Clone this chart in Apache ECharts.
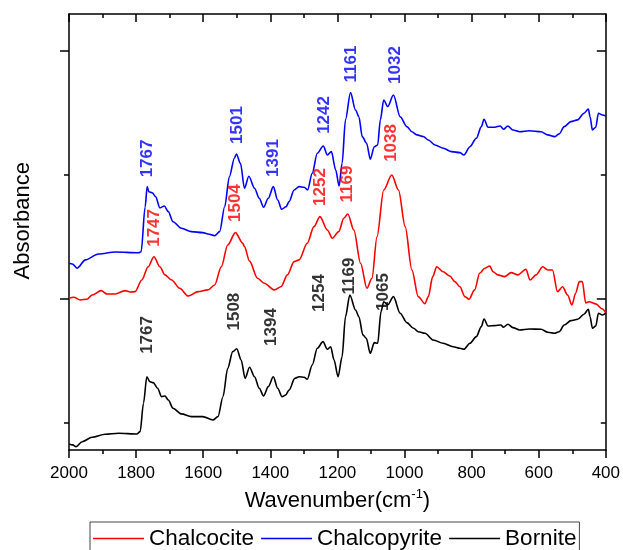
<!DOCTYPE html>
<html>
<head>
<meta charset="utf-8">
<script src="https://cdn.jsdelivr.net/npm/echarts@6/dist/echarts.min.js"></script>
<style>
html,body{margin:0;padding:0;background:#fff;}
#chart{width:623px;height:550px;}
</style>
</head>
<body>
<div id="chart"></div>
<script>
// ---------- data (wavenumber in cm-1, absorbance in arbitrary offset units) ----------
var chalcociteWn = [2000,1986,1966,1946,1931,1904,1887,1862,1833,1818,1803,1783,1764,1747,1729,1714,1694,1670,1645,1615,1586,1566,1546,1527,1504,1482,1477,1462,1438,1418,1388,1368,1349,1329,1314,1290,1270,1252,1230,1215,1196,1181,1169,1151,1131,1112,1097,1082,1062,1038,1018,998,978,959,939,929,916,904,885,865,850,835,820,808,791,776,761,746,736,722,702,682,662,638,626,608,588,573,559,544,529,514,501,490,479,470,460,450,430,410,400];
var chalcociteAbs = [1.006,1.014,0.992,0.998,1.032,1.067,1.040,1.040,1.067,1.056,1.059,1.153,1.260,1.341,1.260,1.194,1.153,1.086,1.024,1.059,1.073,1.113,1.260,1.435,1.535,1.449,1.422,1.305,1.167,1.127,1.073,1.099,1.194,1.301,1.315,1.449,1.583,1.664,1.556,1.490,1.543,1.651,1.685,1.556,1.288,1.086,1.167,1.502,1.879,2.000,1.879,1.583,1.234,1.019,0.962,1.020,1.180,1.260,1.220,1.185,1.140,1.099,1.019,0.998,1.073,1.207,1.248,1.266,1.220,1.194,1.180,1.212,1.194,1.240,1.153,1.194,1.260,1.234,1.234,1.059,1.099,1.032,0.952,1.046,1.140,1.140,0.968,0.978,0.960,0.919,0.887];

var chalcopyriteWn = [2000,1990,1976,1951,1912,1862,1793,1785,1773,1767,1762,1752,1742,1729,1716,1704,1690,1665,1635,1601,1586,1566,1551,1536,1522,1507,1501,1489,1477,1464,1447,1433,1420,1406,1391,1378,1366,1353,1344,1329,1314,1299,1289,1275,1260,1242,1230,1218,1205,1195,1186,1176,1161,1146,1136,1126,1113,1102,1090,1080,1072,1062,1050,1033,1013,993,978,963,944,929,909,884,860,835,823,805,786,771,763,751,731,715,705,692,677,657,628,593,573,553,539,524,504,484,465,452,447,440,430,422,410,400];
var chalcopyriteAbs = [1.288,1.282,1.248,1.315,1.363,1.379,1.373,1.381,1.744,1.906,1.865,1.857,1.825,1.734,1.750,1.704,1.623,1.570,1.543,1.535,1.524,1.510,1.543,1.744,1.986,2.135,2.169,2.094,1.893,1.990,1.893,1.812,1.740,1.812,1.906,1.798,1.723,1.744,1.785,1.879,1.906,1.901,1.879,2.014,2.175,2.234,2.161,2.188,2.040,1.911,2.094,2.444,2.664,2.524,2.470,2.309,2.256,2.127,2.228,2.242,2.444,2.605,2.551,2.645,2.470,2.390,2.349,2.323,2.310,2.282,2.242,2.215,2.188,2.180,2.161,2.228,2.296,2.390,2.449,2.385,2.385,2.395,2.369,2.395,2.363,2.349,2.357,2.349,2.323,2.309,2.331,2.390,2.430,2.444,2.498,2.532,2.470,2.363,2.385,2.498,2.484,2.476];

var borniteWn = [2000,1989,1979,1961,1931,1892,1852,1798,1788,1778,1768,1759,1749,1736,1724,1714,1704,1690,1665,1635,1601,1571,1556,1541,1527,1512,1500,1487,1475,1462,1447,1433,1420,1406,1391,1378,1365,1354,1344,1327,1314,1299,1290,1275,1260,1243,1230,1220,1210,1198,1186,1176,1163,1146,1136,1124,1114,1102,1090,1080,1070,1062,1050,1033,1013,993,973,959,939,914,885,855,835,823,805,786,771,763,751,731,713,705,692,677,657,628,593,573,553,539,524,504,484,465,452,447,440,430,422,410,400];
var borniteAbs = [-0.169,-0.177,-0.191,-0.151,-0.115,-0.091,-0.083,-0.089,-0.070,0.159,0.373,0.333,0.325,0.280,0.212,0.218,0.185,0.119,0.073,0.051,0.051,0.024,0.051,0.212,0.441,0.575,0.599,0.508,0.360,0.449,0.373,0.280,0.218,0.293,0.373,0.280,0.212,0.226,0.266,0.360,0.373,0.369,0.352,0.468,0.602,0.656,0.594,0.615,0.508,0.373,0.535,0.857,1.032,0.911,0.857,0.710,0.683,0.562,0.648,0.643,0.898,0.978,0.952,1.019,0.885,0.809,0.764,0.736,0.723,0.669,0.643,0.615,0.602,0.594,0.643,0.696,0.777,0.839,0.782,0.785,0.790,0.772,0.796,0.769,0.750,0.758,0.756,0.731,0.723,0.736,0.790,0.825,0.836,0.877,0.917,0.857,0.764,0.782,0.885,0.871,0.885];

// peak annotations: text, x (cm-1), y (absorbance units)
var chalcopyritePeaks = ['1767','1501','1391','1242','1161','1032'];
var chalcopyritePeakX = [1766,1499,1390,1240,1160,1027];
var chalcopyritePeakY = [2.133,2.403,2.137,2.484,2.895,2.887];
var chalcocitePeaks = ['1747','1504','1252','1169','1038'];
var chalcocitePeakX = [1746,1504,1250,1169,1039];
var chalcocitePeakY = [1.573,1.774,1.903,1.927,2.258];
var bornitePeaks = ['1767','1508','1394','1254','1169','1065'];
var bornitePeakX = [1768,1507,1398,1255,1166,1062];
var bornitePeakY = [0.710,0.898,0.774,1.048,1.185,1.056];

var seriesNames = ['Chalcocite','Chalcopyrite','Bornite'];

// ---------- build ----------
function zip(a,b){ var r=[]; for(var i=0;i<a.length;i++) r.push([a[i],b[i]]); return r; }
function peaks(t,x,y){ var r=[]; for(var i=0;i<t.length;i++) r.push({value:[x[i],y[i]], name:t[i]}); return r; }

var FONT = "'Liberation Sans', Arial, sans-serif";
var YMIN = -0.218, YMAX = 3.298;

function lineSeries(name, wn, ab, color){
  return { name:name, type:'line', data:zip(wn,ab), symbol:'none', smooth:0.3, smoothMonotone:'x',
    lineStyle:{color:color,width:1.6}, itemStyle:{color:color}, animation:false, z:3 };
}
function labelSeries(t,x,y,color){
  return { type:'scatter', data:peaks(t,x,y), symbolSize:0, silent:true, animation:false, z:5,
    label:{show:true, position:'inside', rotate:90, formatter:'{b}', color:color,
      fontFamily:FONT, fontSize:17, fontWeight:'bold'} };
}
function yAx(pos, vals, len, inside, line){
  return { type:'value', position:pos, min:YMIN, max:YMAX,
    axisLine:{show:line, onZero:false, lineStyle:{color:'#000',width:1.5}},
    axisTick:{show:true, inside:inside, length:len, customValues:vals, lineStyle:{color:'#000',width:1.5}},
    axisLabel:{show:false}, splitLine:{show:false} };
}

var chart = echarts.init(document.getElementById('chart'), null, {renderer:'canvas'});
chart.setOption({
  backgroundColor:'#fff',
  animation:false,
  grid:{left:69, right:14, top:14, bottom:100, containLabel:false},
  xAxis:[
    { type:'value', position:'bottom', inverse:true, min:400, max:2000, interval:200,
      axisLine:{show:true, onZero:false, lineStyle:{color:'#000',width:1.5}},
      axisTick:{show:true, inside:false, length:8, lineStyle:{color:'#000',width:1.5}},
      minorTick:{show:true, splitNumber:2, length:4, lineStyle:{color:'#000',width:1.5}},
      axisLabel:{show:true, color:'#000', fontFamily:FONT, fontSize:17, margin:15,
        formatter:function(v){ return String(v); }},
      splitLine:{show:false},
      name:'Wavenumber(cm{sup|-1})', nameLocation:'middle', nameGap:38,
      nameTextStyle:{color:'#000', fontFamily:FONT, fontSize:22,
        rich:{sup:{fontSize:13, verticalAlign:'top', padding:[0,0,12,0], color:'#000', fontFamily:FONT}}} },
    { type:'value', position:'top', inverse:true, min:400, max:2000, interval:200,
      axisLine:{show:true, onZero:false, lineStyle:{color:'#000',width:1.5}},
      axisTick:{show:true, inside:true, length:8, lineStyle:{color:'#000',width:1.5}},
      minorTick:{show:true, splitNumber:2, length:4, lineStyle:{color:'#000',width:1.5}},
      axisLabel:{show:false}, splitLine:{show:false} }
  ],
  yAxis:[
    yAx('left',[1,3],9,false,true),
    yAx('left',[0,2],5,false,false),
    yAx('right',[1,3],9,true,true),
    yAx('right',[0,2],5,true,false)
  ],
  legend:{ data:seriesNames, left:90, top:522, orient:'horizontal', icon:'rect', itemWidth:51, itemHeight:1.6,
    itemGap:7, padding:[5,3,6,3], borderColor:'#444', borderWidth:1, backgroundColor:'#fff',
    textStyle:{color:'#000', fontFamily:FONT, fontSize:22.5} },
  graphic:[{ type:'text', left:12, top:162,
    style:{ text:'Absorbance', fill:'#000', font:"22px 'Liberation Sans', Arial, sans-serif" },
    rotation:Math.PI/2, originX:0, originY:0 }],
  series:[
    lineSeries(seriesNames[0], chalcociteWn, chalcociteAbs, '#ff0000'),
    lineSeries(seriesNames[1], chalcopyriteWn, chalcopyriteAbs, '#0000ff'),
    lineSeries(seriesNames[2], borniteWn, borniteAbs, '#000000'),
    labelSeries(chalcopyritePeaks, chalcopyritePeakX, chalcopyritePeakY, '#0000ff'),
    labelSeries(chalcocitePeaks, chalcocitePeakX, chalcocitePeakY, '#ff0000'),
    labelSeries(bornitePeaks, bornitePeakX, bornitePeakY, '#000000')
  ]
});
</script>
</body>
</html>
